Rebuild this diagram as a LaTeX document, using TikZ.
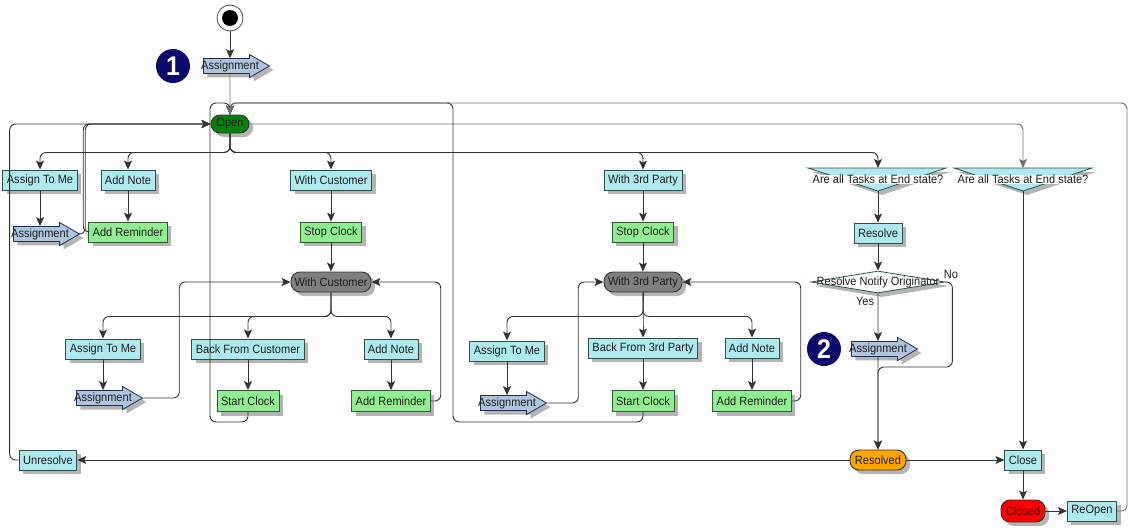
\documentclass[tikz,border=0pt]{standalone}
\usepackage{fontspec}
\setmainfont{Liberation Sans}[FakeStretch=0.92]
\usetikzlibrary{shapes.geometric,shapes.arrows,shapes.misc,shadows,arrows.meta,calc}
\definecolor{cyanfill}{HTML}{AEE9EE}
\definecolor{boxborder}{HTML}{2F4F4F}
\definecolor{greenfill}{HTML}{90EE90}
\definecolor{greenborder}{HTML}{2F5F2F}
\definecolor{asgfill}{HTML}{B0C4DE}
\definecolor{asgborder}{HTML}{1F2F55}
\definecolor{openfill}{HTML}{0A800A}
\definecolor{pillgray}{HTML}{7F7F7F}
\definecolor{resolvedfill}{HTML}{FFA500}
\definecolor{closedfill}{HTML}{FF0000}
\definecolor{navybadge}{HTML}{0B0B6E}
\definecolor{shadowgray}{HTML}{B4B4B4}
\definecolor{linecol}{HTML}{333333}
\definecolor{lightline}{HTML}{6E6E6E}
\begin{document}
\begin{tikzpicture}[x=1pt,y=-1pt,
  txt/.style={font=\fontsize{12}{14}\selectfont, text=black!88},
  shad/.style={drop shadow={shadow xshift=4pt,shadow yshift=-4pt,fill=shadowgray,opacity=1}},
  actbox/.style={txt, shad, rectangle, draw=boxborder, fill=cyanfill, line width=0.9pt, minimum height=20pt, inner xsep=4pt, inner ysep=0pt},
  grnbox/.style={actbox, fill=greenfill, draw=greenborder},
  pill/.style={txt, shad, rectangle, rounded corners=9pt, draw=black!80, line width=0.9pt, minimum height=20pt, inner xsep=2pt, inner ysep=0pt},
  asg/.style={txt, shad, single arrow, draw=asgborder, fill=asgfill, line width=0.8pt, single arrow head extend=4pt, single arrow tip angle=60, minimum height=66pt, inner xsep=1pt, inner ysep=1.5pt},
  badge/.style={circle, fill=navybadge, minimum size=34pt, inner sep=0pt, text=white, font=\fontsize{27}{27}\selectfont\bfseries},
  conn/.style={draw=linecol, line width=0.9pt, rounded corners=6pt},
  arr/.style={conn, -{Stealth[length=9pt,width=8pt,inset=2pt]}},
  lightarr/.style={arr, draw=lightline},
]
\useasboundingbox (0,0) rectangle (1130,528);

% ---------- nodes ----------
\node[circle, draw=black!70, fill=white, line width=0.8pt, minimum size=26pt, inner sep=0pt] (start) at (230,18) {};
\node[circle, fill=black, minimum size=16pt, inner sep=0pt] (startdot) at (start) {};
\node[badge] (b1) at (173,66) {1};
\node[asg] (asg0) at (230,66) {\makebox[28pt]{Assignment}};
\node[pill, fill=openfill, minimum width=38pt, minimum height=18pt] (open) at (230,124) {Open};

\node[actbox] (atm1) at (40,180) {Assign To Me};
\node[actbox] (note1) at (128,180) {Add Note};
\node[asg] (asg1) at (40,234) {\makebox[28pt]{Assignment}};
\node[grnbox] (rem1) at (128,232) {Add Reminder};

\node[actbox] (wc1) at (331,180) {With Customer};
\node[grnbox] (stop1) at (331,232) {Stop Clock};
\node[pill, fill=pillgray, minimum width=80pt] (wcp) at (331,282) {With Customer};
\node[actbox] (atm2) at (103,349) {Assign To Me};
\node[asg] (asg2) at (103,398) {\makebox[28pt]{Assignment}};
\node[actbox] (bfc) at (248,349) {Back From Customer};
\node[grnbox, minimum height=21pt] (sc2) at (248,401) {Start Clock};
\node[actbox] (note2) at (391,349) {Add Note};
\node[grnbox, minimum height=21pt] (rem2) at (391,401) {Add Reminder};

\node[actbox] (unres) at (48,460) {Unresolve};

\node[actbox] (w3p1) at (643,180) {With 3rd Party};
\node[grnbox] (stop3) at (643,232) {Stop Clock};
\node[pill, fill=pillgray, minimum width=78pt] (w3pp) at (643,282) {With 3rd Party};
\node[actbox] (atm3) at (507,351) {Assign To Me};
\node[asg] (asg3) at (507,403) {\makebox[28pt]{Assignment}};
\node[actbox] (bf3) at (643,348) {Back From 3rd Party};
\node[grnbox, minimum height=21pt] (sc3) at (643,401) {Start Clock};
\node[actbox] (note3) at (752,348) {Add Note};
\node[grnbox, minimum height=21pt] (rem3) at (752,401) {Add Reminder};

% decisions (inverted triangles)
\path[shad, draw=boxborder, fill=cyanfill, line width=0.8pt] (808,168) -- (946,168) -- (878,191) -- cycle;
\coordinate (dec1top) at (878,168);
\coordinate (dec1bot) at (878,191);
\node[txt, fill=white, inner xsep=0.5pt, inner ysep=0.5pt] (dec1) at (878,179.5) {Are all Tasks at End state?};
\path[shad, draw=boxborder, fill=cyanfill, line width=0.8pt] (954,168) -- (1092,168) -- (1023,191) -- cycle;
\coordinate (dec2top) at (1023,168);
\coordinate (dec2bot) at (1023,191);
\node[txt, fill=white, inner xsep=0.5pt, inner ysep=0.5pt] (dec2) at (1023,179.5) {Are all Tasks at End state?};

\node[actbox] (resolve) at (878,233) {Resolve};
\node[txt, shad, diamond, draw=boxborder, fill=white, line width=0.8pt, minimum width=134pt, minimum height=22pt, inner sep=0pt] (rno) at (878,282) {\makebox[0pt]{Resolve Notify Originator}};
\node[txt] (nolbl) at (951,274) {No};
\node[txt] (yeslbl) at (865,301) {Yes};
\node[badge] (b2) at (824,349) {2};
\node[asg] (asg4) at (878,349) {\makebox[28pt]{Assignment}};
\node[pill, fill=resolvedfill, minimum width=56pt] (resolved) at (878,460) {Resolved};
\node[actbox] (close) at (1023,460) {Close};
\node[pill, fill=closedfill, minimum width=44pt, minimum height=22pt, text=black!75!red] (closed) at (1023,511) {Closed};
\node[actbox] (reopen) at (1092,511) {ReOpen};

\coordinate (loopA) at (210,103);
\coordinate (loopB) at (453,103);
\coordinate (loopC) at (1127,103);

% ---------- connectors ----------
\draw[arr] (start) -- (asg0);
\draw[lightarr] (asg0) -- (open);

\draw[arr] (open.south) -- ++(0,19) -| (atm1.north);
\draw[arr] (open.south) -- ++(0,19) -| (note1.north);
\draw[arr] (open.south) -- ++(0,19) -| (wc1.north);
\draw[arr] (open.south) -- ++(0,19) -| (w3p1.north);
\draw[arr] (open.south) -- ++(0,19) -| (dec1top);
\draw[lightarr] (open.east) -| (dec2top);

\draw[arr] (atm1) -- (asg1);
\draw[arr] (note1) -- (rem1);
\draw[arr] (asg1.tip) -- ++(5,0) |- (open.west);
\draw[arr] (rem1.west) -- ++(-5,0) |- (open.west);
\draw[arr] (unres.west) -- ++(-9,0) |- (open.west);

\draw[arr] (wc1) -- (stop1);
\draw[arr] (stop1) -- (wcp);
\draw[arr] (wcp.south) -- ++(0,24) -| (atm2.north);
\draw[arr] (wcp.south) -- ++(0,24) -| (bfc.north);
\draw[arr] (wcp.south) -- ++(0,24) -| (note2.north);
\draw[arr] (atm2) -- (asg2);
\draw[arr] (bfc) -- (sc2);
\draw[arr] (note2) -- (rem2);
\draw[arr] (asg2.tip) -- ++(36,0) |- (wcp.west);
\draw[arr] (rem2.east) -- ++(10,0) |- (wcp.east);
\draw[arr] (sc2.south) -- ++(0,10) -| (loopA) -| (open.north);

\draw[arr] (w3p1) -- (stop3);
\draw[arr] (stop3) -- (w3pp);
\draw[arr] (w3pp.south) -- ++(0,24) -| (atm3.north);
\draw[arr] (w3pp.south) -- ++(0,24) -| (bf3.north);
\draw[arr] (w3pp.south) -- ++(0,24) -| (note3.north);
\draw[arr] (atm3) -- (asg3);
\draw[arr] (bf3) -- (sc3);
\draw[arr] (note3) -- (rem3);
\draw[arr] (asg3.tip) -- ++(31,0) |- (w3pp.west);
\draw[arr] (rem3.east) -- ++(9,0) |- (w3pp.east);
\draw[arr] (sc3.south) -- ++(0,10) -| (loopB) -| (open.north);

\draw[arr] (dec1bot) -- (resolve);
\draw[arr] (resolve) -- (rno);
\draw[arr] (rno.south) -- (asg4);
\draw[arr] (asg4) -- (resolved);
\draw[arr] (rno.east) -- ++(7,0) -- ++(0,85) -| (resolved.north);
\draw[arr] (dec2bot) -- (close);
\draw[arr] (resolved) -- (close);
\draw[arr] (resolved) -- (unres);
\draw[arr] (close) -- (closed);
\draw[arr] (closed) -- (reopen);
\draw[lightarr] (reopen.east) -| (loopC) -| (open.north);
\end{tikzpicture}
\end{document}
